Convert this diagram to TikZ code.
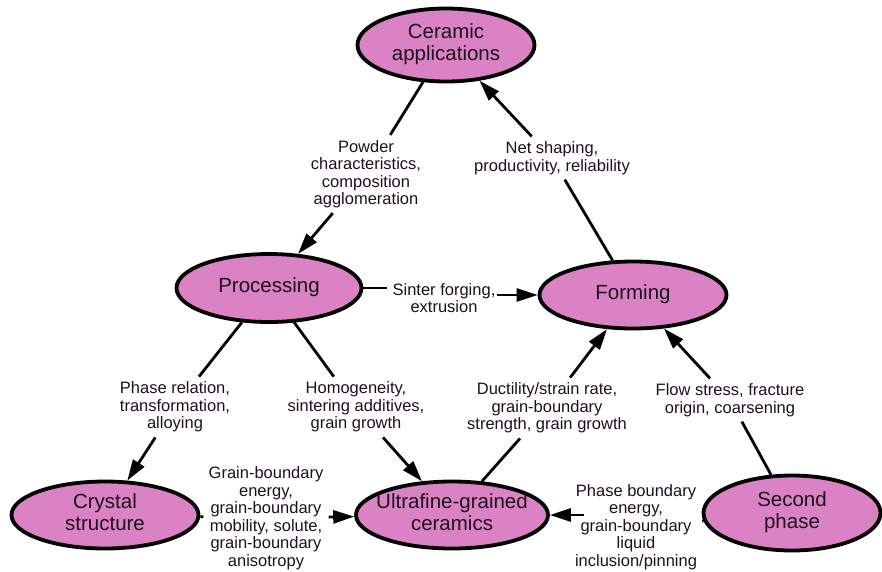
\documentclass[tikz,border=0pt]{standalone}
\usepackage{fontspec}
\setmainfont{Liberation Sans}
\usetikzlibrary{shapes.geometric,arrows.meta}
\definecolor{pinkfill}{RGB}{218,130,196}
\definecolor{inktext}{RGB}{28,18,28}
\newcommand{\ntext}[1]{\makebox[0pt]{\begin{tabular}{@{}c@{}}#1\end{tabular}}}
\begin{document}
\begin{tikzpicture}[x=1pt,y=-1pt,
  topic/.style={ellipse, draw=black, line width=3.8pt, fill=pinkfill, inner sep=0pt,
    text=inktext, font=\fontsize{20.5}{22.5}\selectfont},
  lab/.style={align=center, inner sep=5pt, text=inktext, font=\fontsize{16.5}{17.5}\selectfont},
  conn/.style={line width=2.8pt},
  arr/.style={conn, -{Triangle[length=21pt,width=13pt]}}]
\useasboundingbox (0,0) rectangle (882,571);
% topic nodes
\node[topic, minimum width=177pt, minimum height=73pt] (cer) at (446,45) {\ntext{Ceramic\\applications}};
\node[topic, minimum width=185pt, minimum height=68pt] (proc) at (269,288) {\ntext{Processing}};
\node[topic, minimum width=187pt, minimum height=67pt] (form) at (633,295) {\ntext{Forming}};
\node[topic, minimum width=187pt, minimum height=67pt] (cry) at (105,515) {\ntext{Crystal\\structure}};
\node[topic, minimum width=192pt, minimum height=67pt] (ufg) at (452,515) {\ntext{Ultrafine-grained\\ceramics}};
\node[topic, minimum width=177pt, minimum height=75pt] (sec) at (792,513) {\ntext{Second\\phase}};
% labels
\node[lab] (l1) at (366,174) {Powder\\characteristics,\\composition\\agglomeration};
\node[lab] (l2) at (552,158) {Net shaping,\\productivity, reliability};
\node[lab] (l3) at (444,298) {Sinter forging,\\extrusion};
\node[lab] (l4) at (175,407) {Phase relation,\\transformation,\\alloying};
\node[lab] (l5) at (356,407) {Homogeneity,\\sintering additives,\\grain growth};
\node[lab] (l6) at (547,408) {Ductility/strain rate,\\grain-boundary\\strength, grain growth};
\node[lab] (l7) at (730,400) {Flow stress, fracture\\origin, coarsening};
\node[lab] (l8) at (266,518) {Grain-boundary\\energy,\\grain-boundary\\mobility, solute,\\grain-boundary\\anisotropy};
\node[lab] (l9) at (636,527) {Phase boundary\\energy,\\grain-boundary\\liquid\\inclusion/pinning};
% connectors
\draw[conn] (cer) -- (l1);
\draw[arr] (l1) -- (proc);
\draw[conn] (form) -- (l2);
\draw[arr] (l2) -- (cer);
\draw[conn] (proc.east) -- (l3.west |- proc.east);
\draw[arr] ([xshift=-4pt]l3.east |- form.west) -- (form.west);
\draw[conn] (proc) -- (l4);
\draw[arr] (l4) -- (cry);
\draw[conn] (proc) -- (l5);
\draw[arr] (l5) -- (ufg);
\draw[conn] (ufg) -- (l6);
\draw[arr] (l6) -- (form);
\draw[conn] (sec) -- (l7);
\draw[arr] (l7) -- (form);
\draw[conn] (cry) -- (l8);
\draw[arr] (l8) -- (ufg);
\draw[conn] (sec) -- (l9);
\draw[arr] ([xshift=14pt]l9.west |- ufg.east) -- (ufg.east);
\end{tikzpicture}
\end{document}
